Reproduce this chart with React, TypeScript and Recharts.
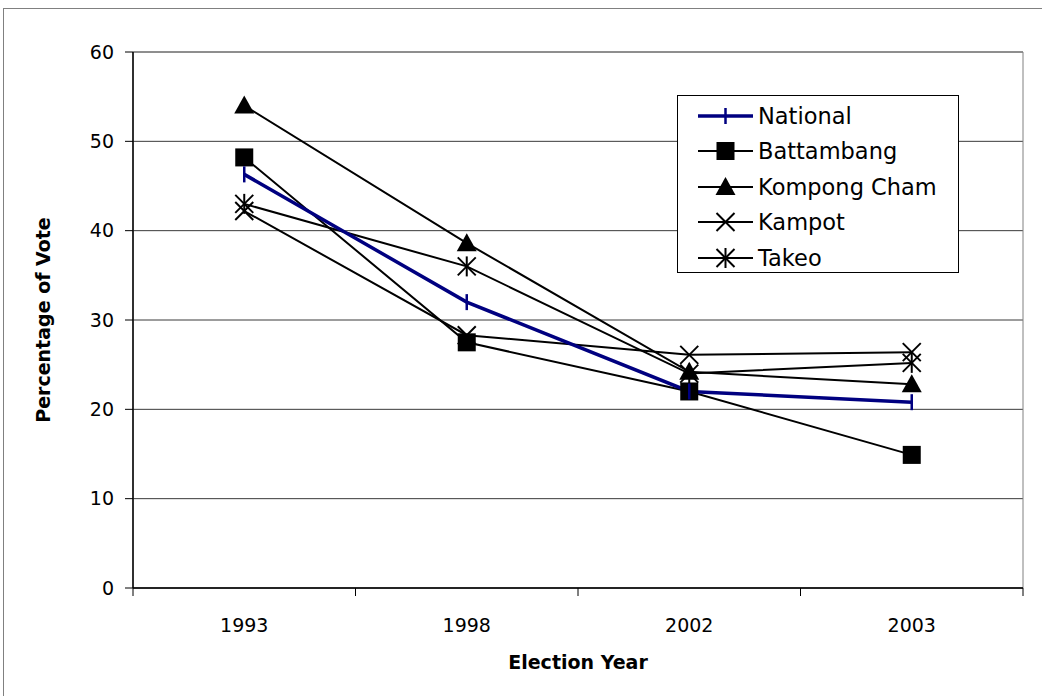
import React from 'react';
import {
  LineChart,
  Line,
  XAxis,
  YAxis,
  CartesianGrid,
  Legend,
  ReferenceArea,
} from 'recharts';

const categories = ['1993', '1998', '2002', '2003'];
const national = [46.3, 32.0, 22.0, 20.8];
const battambang = [48.2, 27.5, 22.0, 14.9];
const kompongCham = [54.0, 38.6, 24.2, 22.8];
const kampot = [42.2, 28.3, 26.1, 26.4];
const takeo = [43.0, 36.0, 24.0, 25.2];
const yTicks = [0, 10, 20, 30, 40, 50, 60];
const xTicks = [-0.5, 0, 0.5, 1, 1.5, 2, 2.5, 3, 3.5];

const data = categories.map((c, i) => ({
  x: i,
  year: c,
  National: national[i],
  Battambang: battambang[i],
  'Kompong Cham': kompongCham[i],
  Kampot: kampot[i],
  Takeo: takeo[i],
}));

const FONT = '"DejaVu Sans", sans-serif';
const NAVY = '#000080';

type MarkerKind = 'tick' | 'square' | 'triangle' | 'x' | 'star';

const series: { key: string; color: string; width: number; marker: MarkerKind }[] = [
  { key: 'National', color: NAVY, width: 3.5, marker: 'tick' },
  { key: 'Battambang', color: '#000', width: 2, marker: 'square' },
  { key: 'Kompong Cham', color: '#000', width: 2, marker: 'triangle' },
  { key: 'Kampot', color: '#000', width: 2, marker: 'x' },
  { key: 'Takeo', color: '#000', width: 2, marker: 'star' },
];

function Marker({ kind, cx, cy, color }: { kind: MarkerKind; cx: number; cy: number; color: string }) {
  const s = 9;
  switch (kind) {
    case 'tick':
      return <line x1={cx} y1={cy - 8} x2={cx} y2={cy + 8} stroke={color} strokeWidth={2.5} />;
    case 'square':
      return <rect x={cx - s} y={cy - s} width={2 * s} height={2 * s} fill={color} />;
    case 'triangle':
      return (
        <polygon
          points={`${cx},${cy - s - 1} ${cx + s + 1},${cy + s - 1} ${cx - s - 1},${cy + s - 1}`}
          fill={color}
        />
      );
    case 'x':
      return (
        <g stroke={color} strokeWidth={2}>
          <line x1={cx - s} y1={cy - s} x2={cx + s} y2={cy + s} />
          <line x1={cx - s} y1={cy + s} x2={cx + s} y2={cy - s} />
        </g>
      );
    case 'star':
      return (
        <g stroke={color} strokeWidth={2}>
          <line x1={cx - s} y1={cy - s} x2={cx + s} y2={cy + s} />
          <line x1={cx - s} y1={cy + s} x2={cx + s} y2={cy - s} />
          <line x1={cx} y1={cy - s - 1} x2={cx} y2={cy + s + 1} />
        </g>
      );
  }
  return null;
}

const makeDot = (kind: MarkerKind, color: string) => (props: any) => {
  const { cx, cy, index } = props;
  if (cx == null || cy == null) return <g key={index} />;
  return (
    <g key={`${kind}-${index}`}>
      <Marker kind={kind} cx={cx} cy={cy} color={color} />
    </g>
  );
};

const XTick = (props: any) => {
  const { x, y, payload } = props;
  const v = payload.value;
  if (Math.abs(v - Math.round(v)) > 0.01) {
    return <line x1={x} y1={y} x2={x} y2={y + 8} stroke="#000" strokeWidth={1} />;
  }
  return (
    <text x={x} y={y + 44} textAnchor="middle" fontFamily={FONT} fontSize={19} fill="#000">
      {categories[Math.round(v)]}
    </text>
  );
};

const LegendContent = () => (
  <div
    style={{
      width: 282,
      height: 178,
      border: '1px solid #000',
      background: '#fff',
      boxSizing: 'border-box',
      paddingTop: 2,
    }}
  >
    {series.map((s) => (
      <div key={s.key} style={{ display: 'flex', alignItems: 'center', height: 35.5 }}>
        <svg width={80} height={30} style={{ display: 'block' }}>
          <line x1={20} y1={15} x2={75} y2={15} stroke={s.color} strokeWidth={s.width} />
          <Marker kind={s.marker} cx={47.5} cy={15} color={s.color} />
        </svg>
        <span style={{ fontFamily: FONT, fontSize: 22.5, color: '#000', marginLeft: 0, lineHeight: '30px' }}>
          {s.key}
        </span>
      </div>
    ))}
  </div>
);

export default function App() {
  return (
    <div
      style={{
        position: 'absolute',
        left: 0,
        top: 0,
        width: 1042,
        height: 696,
        overflow: 'hidden',
        background: '#fff',
      }}
    >
      <div
        style={{
          position: 'absolute',
          left: 3,
          top: 8,
          width: 1060,
          height: 720,
          border: '1px solid #808080',
        }}
      />
      <div style={{ position: 'absolute', left: 0, top: 0 }}>
        <LineChart
          width={1042}
          height={696}
          data={data}
          margin={{ top: 52, right: 19, bottom: 27, left: 73 }}
        >
          <CartesianGrid horizontal vertical={false} stroke="#3a3a3a" strokeWidth={1} />
          <ReferenceArea x1={-0.5} x2={3.5} y1={0} y2={60} fill="none" stroke="#808080" strokeWidth={1} />
          <XAxis
            dataKey="x"
            type="number"
            domain={[-0.5, 3.5]}
            ticks={xTicks}
            interval={0}
            tickLine={false}
            tickSize={0}
            tickMargin={0}
            height={81}
            axisLine={{ stroke: '#000', strokeWidth: 1.5 }}
            tick={<XTick />}
            label={{
              value: 'Election Year',
              position: 'insideBottom',
              offset: 0,
              style: { fontFamily: FONT, fontSize: 19, fontWeight: 'bold', fill: '#000' },
            }}
          />
          <YAxis
            type="number"
            domain={[0, 60]}
            ticks={yTicks}
            interval={0}
            width={60}
            tickSize={8}
            tickMargin={11}
            axisLine={{ stroke: '#000', strokeWidth: 1.5 }}
            tickLine={{ stroke: '#000' }}
            tick={{ fontFamily: FONT, fontSize: 19, fill: '#000' }}
            label={{
              value: 'Percentage of Vote',
              angle: -90,
              position: 'center',
              dx: -60,
              style: { fontFamily: FONT, fontSize: 19, fontWeight: 'bold', fill: '#000', textAnchor: 'middle' },
            }}
          />
          <Legend
            layout="vertical"
            align="center"
            verticalAlign="middle"
            content={<LegendContent />}
            wrapperStyle={{ position: 'absolute', left: 677, top: 95, width: 282, height: 178 }}
          />
          {series
            .slice()
            .reverse()
            .map((s) => (
              <Line
                key={s.key}
                dataKey={s.key}
                type="linear"
                stroke={s.color}
                strokeWidth={s.width}
                dot={makeDot(s.marker, s.color)}
                activeDot={false}
                isAnimationActive={false}
              />
            ))}
        </LineChart>
      </div>
    </div>
  );
}
